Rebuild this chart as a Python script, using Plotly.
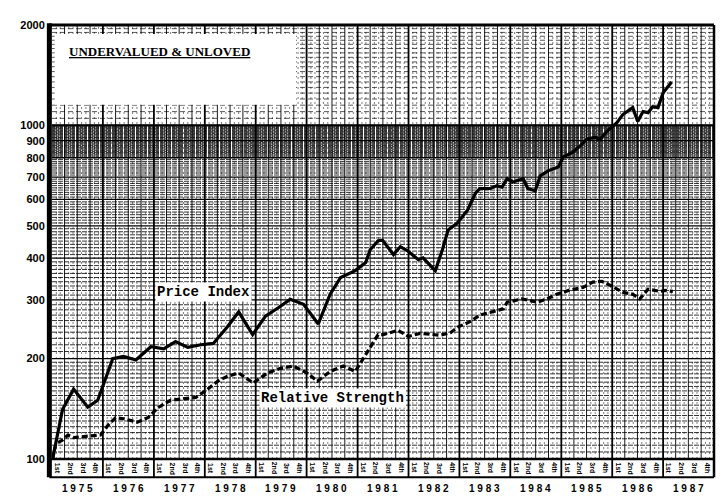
import math
import plotly.graph_objects as go

# ---------------- data ----------------
price_dates = [
    "1975-01-05", "1975-03-18", "1975-06-05", "1975-09-15", "1975-11-25",
    "1976-03-12", "1976-05-28", "1976-08-25", "1976-12-10", "1977-03-12",
    "1977-06-05", "1977-09-01", "1977-12-03", "1978-03-03", "1978-06-12",
    "1978-09-01", "1978-12-10", "1979-03-12", "1979-06-12", "1979-09-05",
    "1979-12-10", "1980-03-25", "1980-06-18", "1980-09-01", "1980-12-15",
    "1981-02-28", "1981-04-01", "1981-05-28", "1981-06-28", "1981-09-15",
    "1981-11-03", "1981-12-25", "1982-03-12", "1982-04-15", "1982-07-12",
    "1982-09-01", "1982-10-12", "1982-12-15", "1983-02-28", "1983-04-25",
    "1983-05-28", "1983-08-10", "1983-09-28", "1983-11-03", "1983-12-10",
    "1984-01-20", "1984-04-03", "1984-05-05", "1984-06-28", "1984-08-03",
    "1984-09-28", "1984-12-10", "1985-01-15", "1985-03-25", "1985-05-15",
    "1985-07-03", "1985-09-01", "1985-10-05", "1985-11-25", "1986-02-05",
    "1986-03-18", "1986-05-28", "1986-07-03", "1986-08-10", "1986-09-15",
    "1986-10-18", "1986-11-25", "1987-01-01", "1987-01-28", "1987-03-03",
]
price_values = [
    100, 141, 162, 143, 150,
    200, 203, 198, 217, 214,
    225, 216, 220, 222, 249,
    276, 236, 268, 284, 301,
    291, 254, 312, 350, 367,
    388, 424, 451, 453, 410,
    433, 421, 396, 401, 367,
    424, 486, 509, 557, 625,
    647, 647, 660, 653, 692,
    677, 692, 647, 637, 706,
    731, 751, 804, 832, 867,
    909, 922, 909, 960, 1021,
    1078, 1131, 1028, 1100, 1092,
    1138, 1131, 1252, 1295, 1350,
]

rs_dates = [
    "1975-01-05", "1975-01-28", "1975-03-18", "1975-04-25", "1975-06-05",
    "1975-11-25", "1975-12-15", "1976-02-05", "1976-04-01", "1976-05-28",
    "1976-09-05", "1976-11-18", "1977-02-05", "1977-05-01", "1977-10-28",
    "1978-01-05", "1978-04-03", "1978-06-12", "1978-09-01", "1978-12-15",
    "1979-03-25", "1979-06-28", "1979-09-28", "1980-01-05", "1980-03-18",
    "1980-06-18", "1980-09-20", "1980-12-15", "1981-02-12", "1981-04-01",
    "1981-05-28", "1981-07-03", "1981-10-18", "1982-01-01", "1982-03-25",
    "1982-08-15", "1982-10-28", "1982-12-25", "1983-03-18", "1983-05-28",
    "1983-09-01", "1983-11-12", "1983-12-10", "1984-03-25", "1984-07-12",
    "1984-09-20", "1984-12-01", "1985-03-03", "1985-06-05", "1985-08-15",
    "1985-10-18", "1985-12-15", "1986-03-18", "1986-05-28", "1986-07-18",
    "1986-09-15", "1986-12-10", "1987-01-15", "1987-03-12",
]
rs_values = [
    100, 111, 114, 118, 116,
    118, 118, 126, 133, 132,
    129, 133, 143, 150, 153,
    160, 171, 177, 181, 169,
    181, 187, 190, 181, 171,
    183, 190, 183, 200, 215,
    236, 236, 243, 233, 238,
    235, 239, 249, 258, 270,
    276, 282, 295, 302, 295,
    302, 312, 321, 327, 339,
    341, 332, 316, 312, 302,
    323, 318, 320, 318,
]

y_tick_values = [100, 200, 300, 400, 500, 600, 700, 800, 900, 1000, 2000]
y_tick_labels = ["100", "200", "300", "400", "500", "600", "700", "800", "900", "1000", "2000"]
years = list(range(1975, 1988))
quarter_labels = ["1st", "2nd", "3rd", "4th"]
title_text = "UNDERVALUED &amp; UNLOVED"
price_label = "Price Index"
rs_label = "Relative Strength"

# ---------------- chart-paper grid ----------------
X0, X1 = "1975-01-01", "1988-01-01"
Y0, Y1 = 100, 2000

major_h = [v for v in range(200, 1001, 100)]
minor_h = ([v for v in range(105, 200, 5)] +
           [v for v in range(210, 1000, 10) if v % 100 != 0])
dense_h = [v for v in range(805, 1000, 10)]
upper_h = [v for v in range(1050, 2000, 50)]


def hlines(vals):
    xs, ys = [], []
    for v in vals:
        xs += [X0, X1, None]
        ys += [v, v, None]
    return xs, ys


def vlines(dates, lo=Y0, hi=Y1):
    xs, ys = [], []
    for d in dates:
        xs += [d, d, None]
        ys += [lo, hi, None]
    return xs, ys


year_dates = [f"{y}-01-01" for y in years[1:]]
quarter_dates = [f"{y}-{m:02d}-01" for y in years for m in (4, 7, 10)]
month_dates = [f"{y}-{m:02d}-01" for y in years for m in (2, 3, 5, 6, 8, 9, 11, 12)]

fig = go.Figure()

gx, gy = hlines(minor_h)
fig.add_trace(go.Scatter(x=gx, y=gy, mode="lines", hoverinfo="skip",
                         line=dict(color="rgba(0,0,0,0.8)", width=1, dash="5px,1px")))
gx, gy = hlines(dense_h)
fig.add_trace(go.Scatter(x=gx, y=gy, mode="lines", hoverinfo="skip",
                         line=dict(color="rgba(0,0,0,0.75)", width=1, dash="3px,1px")))
gx, gy = hlines(upper_h)
fig.add_trace(go.Scatter(x=gx, y=gy, mode="lines", hoverinfo="skip",
                         line=dict(color="rgba(0,0,0,0.65)", width=1, dash="5px,3px")))
gx, gy = hlines(major_h)
fig.add_trace(go.Scatter(x=gx, y=gy, mode="lines", hoverinfo="skip",
                         line=dict(color="black", width=1.3)))
gx, gy = vlines(month_dates)
fig.add_trace(go.Scatter(x=gx, y=gy, mode="lines", hoverinfo="skip",
                         line=dict(color="rgba(0,0,0,0.5)", width=1, dash="2px,3px")))
gx, gy = vlines(quarter_dates)
fig.add_trace(go.Scatter(x=gx, y=gy, mode="lines", hoverinfo="skip",
                         line=dict(color="rgba(0,0,0,0.9)", width=1)))
gx, gy = vlines(year_dates)
fig.add_trace(go.Scatter(x=gx, y=gy, mode="lines", hoverinfo="skip",
                         line=dict(color="black", width=1.8)))
gx, gy = hlines([1000])
fig.add_trace(go.Scatter(x=gx, y=gy, mode="lines", hoverinfo="skip",
                         line=dict(color="black", width=2.2)))

# ---------------- data series ----------------
fig.add_trace(go.Scatter(x=rs_dates, y=rs_values, mode="lines", name=rs_label,
                         line=dict(color="black", width=3.2, dash="6px,3px")))
fig.add_trace(go.Scatter(x=price_dates, y=price_values, mode="lines", name=price_label,
                         line=dict(color="black", width=3.2)))

shapes = []
# white title box
shapes.append(dict(type="rect", xref="paper", yref="paper", x0=0.004, x1=0.3686,
                   y0=0.816, y1=0.9795, fillcolor="white", line=dict(width=0), layer="above"))
# frame
shapes.append(dict(type="line", xref="paper", yref="paper", x0=-0.004, x1=-0.004,
                   y0=-0.042, y1=1.004, line=dict(color="black", width=5)))
shapes.append(dict(type="line", xref="paper", yref="paper", x0=-0.004, x1=1.0,
                   y0=1.0, y1=1.0, line=dict(color="black", width=3)))
shapes.append(dict(type="line", xref="paper", yref="paper", x0=1.0, x1=1.0,
                   y0=-0.042, y1=1.0, line=dict(color="black", width=2.5)))
shapes.append(dict(type="line", xref="paper", yref="paper", x0=-0.004, x1=1.0,
                   y0=0.0, y1=0.0, line=dict(color="black", width=2.5)))
shapes.append(dict(type="line", xref="paper", yref="paper", x0=-0.004, x1=1.0,
                   y0=-0.042, y1=-0.042, line=dict(color="black", width=2)))
# year boundaries in quarter strip
for d in year_dates:
    shapes.append(dict(type="line", xref="x", yref="paper", x0=d, x1=d,
                       y0=-0.042, y1=0.0, line=dict(color="black", width=1.8)))

annotations = []
annotations.append(dict(xref="paper", yref="paper", x=0.022, y=0.939, xanchor="left",
                        yanchor="middle", showarrow=False,
                        text=f"<u><b>{title_text}</b></u>",
                        font=dict(family="Liberation Serif", size=13, color="black")))
annotations.append(dict(xref="paper", yref="paper", x=0.2293, y=0.384, showarrow=False,
                        xanchor="center", yanchor="middle",
                        text=f"<b>{price_label}</b>", bgcolor="white", borderpad=1,
                        font=dict(family="Liberation Mono", size=14, color="black")))
annotations.append(dict(xref="paper", yref="paper", x=0.4238, y=0.141, showarrow=False,
                        xanchor="center", yanchor="middle",
                        text=f"<b>{rs_label}</b>", bgcolor="white", borderpad=1,
                        font=dict(family="Liberation Mono", size=14, color="black")))
for y in years:
    annotations.append(dict(xref="x", yref="paper", x=f"{y}-07-01", y=-0.068,
                            xanchor="center", yanchor="middle",
                            showarrow=False, text="<b>" + " ".join(str(y)) + "</b>",
                            font=dict(family="Liberation Sans", size=10, color="black")))
    for i, q in enumerate(quarter_labels):
        mdate = f"{y}-{3 * i + 2:02d}-15"
        annotations.append(dict(xref="x", yref="paper", x=mdate, y=-0.021,
                                xanchor="center", yanchor="middle",
                                showarrow=False, text=f"<b>{q}</b>", textangle=90,
                                font=dict(family="Liberation Sans", size=7, color="black")))

fig.update_layout(
    width=720, height=490,
    margin=dict(l=44, r=14, t=11, b=39),
    paper_bgcolor="white", plot_bgcolor="white",
    showlegend=False,
    shapes=shapes, annotations=annotations,
    xaxis=dict(range=[X0, X1], type="date", showgrid=False, zeroline=False,
               showticklabels=False, ticks="", showline=False),
    yaxis=dict(type="log", range=[math.log10(Y0), math.log10(Y1)],
               tickmode="array", tickvals=y_tick_values, ticktext=y_tick_labels,
               ticks="outside", ticklen=4, tickwidth=1.5, tickcolor="black",
               showgrid=False, zeroline=False, showline=False,
               tickfont=dict(family="Liberation Sans", size=11, color="black", weight="bold")),
)

fig.write_html("out.html")
